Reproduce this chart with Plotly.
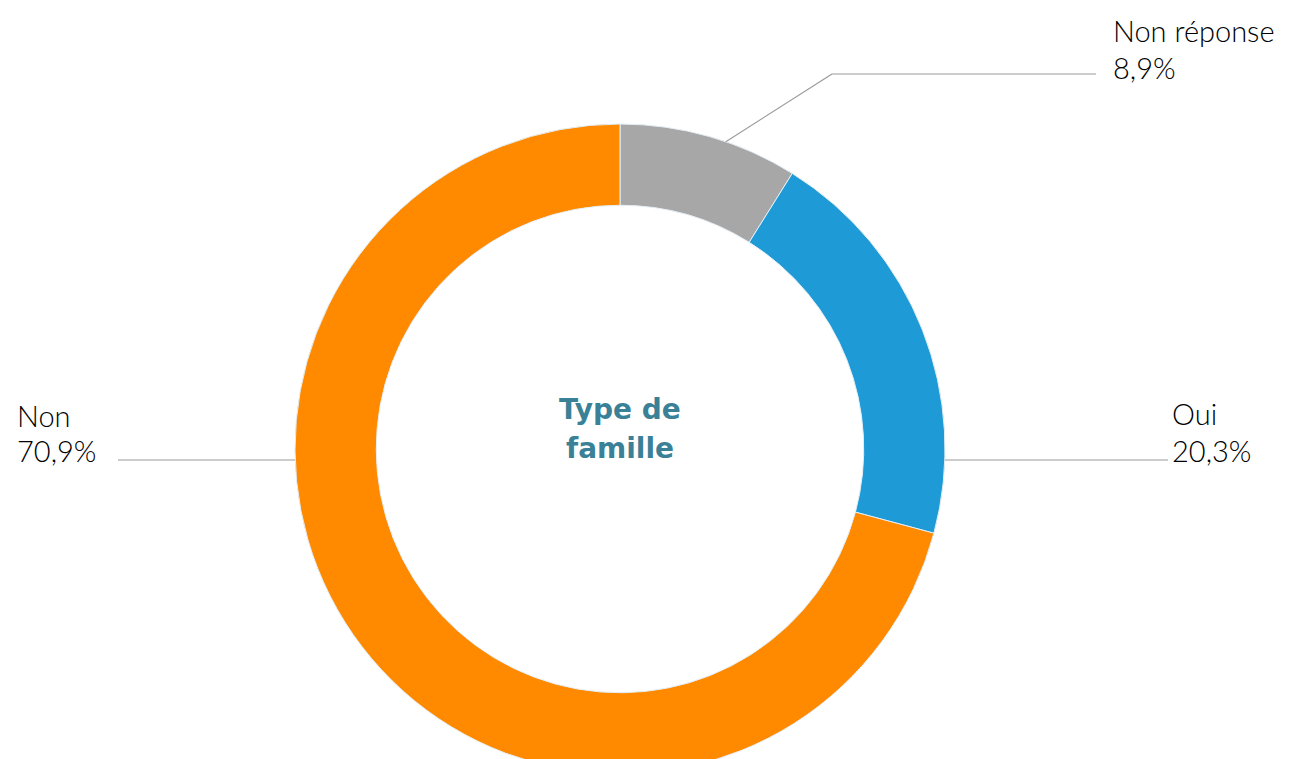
import math
import plotly.graph_objects as go

# ---------------- data ----------------
categories = ["Non réponse", "Oui", "Non"]
values = [8.9, 20.3, 70.9]
value_labels = ["8,9%", "20,3%", "70,9%"]
colors = ["#A7A7A7", "#1E9BD7", "#FF8A00"]
center_title = ["Type de", "famille"]

# ---------------- geometry (pixels) ----------------
W, H = 1291, 800          # figure taller than window: bottom of ring is cut off
cx, cy, R = 620, 449, 325
HOLE = 0.75


def px(x):
    return x / W


def py(y):
    return 1 - y / H


fig = go.Figure(
    go.Pie(
        labels=categories,
        values=values,
        marker=dict(colors=colors, line=dict(color="#E4EEF5", width=1)),
        hole=HOLE,
        sort=False,
        direction="clockwise",
        rotation=0,
        textinfo="none",
        hoverinfo="label+percent",
        showlegend=False,
        domain=dict(x=[px(cx - R), px(cx + R)], y=[py(cy + R), py(cy - R)]),
    )
)

# slice mid-angles from data (degrees clockwise from 12 o'clock)
total = sum(values)
mids = []
acc = 0
for v in values:
    mids.append((acc + v / 2) / total * 360)
    acc += v

line_style = dict(color="#9A9A9A", width=1.2)
shapes = []

# Non réponse: from slice mid on outer edge, diagonal to elbow, then horizontal
a = math.radians(mids[0] + 3)
ax, ay = cx + R * math.sin(a), cy - R * math.cos(a)
elbow_x, elbow_y = 832, 74
end_x = 1096
shapes.append(dict(type="line", xref="paper", yref="paper",
                   x0=px(ax), y0=py(ay), x1=px(elbow_x), y1=py(elbow_y), line=line_style))
shapes.append(dict(type="line", xref="paper", yref="paper",
                   x0=px(elbow_x), y0=py(elbow_y), x1=px(end_x), y1=py(elbow_y), line=line_style))

# Oui / Non: horizontal lines to ring edge
ly = 460
half = math.sqrt(R * R - (ly - cy) ** 2)
shapes.append(dict(type="line", xref="paper", yref="paper",
                   x0=px(cx + half), y0=py(ly), x1=px(1168), y1=py(ly), line=line_style))
shapes.append(dict(type="line", xref="paper", yref="paper",
                   x0=px(118), y0=py(ly), x1=px(cx - half), y1=py(ly), line=line_style))

label_font = dict(family="Lato, sans-serif", size=29, color="#000000", weight=300)
label_pos = {
    "Non réponse": (1111, 31, 68),
    "Oui": (1170, 413, 450),
    "Non": (15, 415, 450),
}

annotations = []
for name, vlab in zip(categories, value_labels):
    x, yn, yv = label_pos[name]
    annotations.append(dict(text=name, x=px(x), y=py(yn), xref="paper", yref="paper",
                            xanchor="left", yanchor="middle", showarrow=False, font=label_font))
    annotations.append(dict(text=vlab, x=px(x), y=py(yv), xref="paper", yref="paper",
                            xanchor="left", yanchor="middle", showarrow=False, font=label_font))

center_font = dict(family="DejaVu Sans, sans-serif", size=28, color="#3A8197", weight="bold")
for t, yc in zip(center_title, [410, 448]):
    annotations.append(dict(text=t, x=px(cx), y=py(yc), xref="paper", yref="paper",
                            xanchor="center", yanchor="middle", showarrow=False, font=center_font))

fig.update_layout(
    width=W, height=H,
    margin=dict(l=0, r=0, t=0, b=0),
    paper_bgcolor="white", plot_bgcolor="white",
    shapes=shapes, annotations=annotations,
)

fig.write_html(
    "out.html",
    config={"displayModeBar": False},
    post_script="document.body.style.margin='0';document.body.style.overflow='hidden';"
                "document.documentElement.style.overflow='hidden';",
)
